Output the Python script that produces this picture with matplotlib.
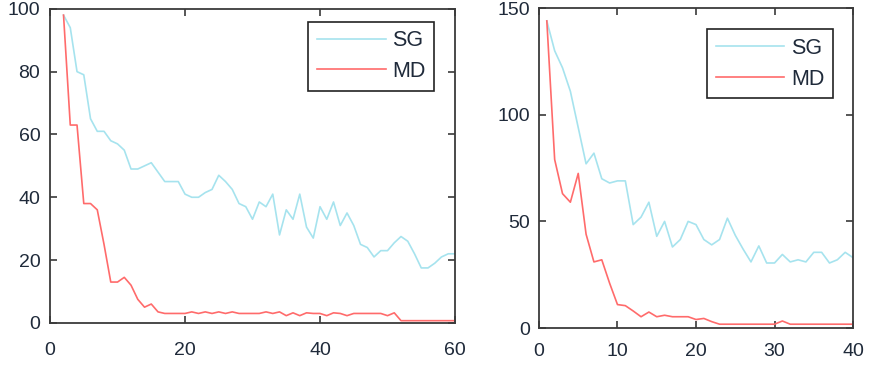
import matplotlib
matplotlib.use("Agg")
import matplotlib.pyplot as plt
import numpy as np

plt.rcParams['font.family'] = ['Liberation Sans', 'DejaVu Sans']

# Left panel data (iterations 2..60)
left_x = list(range(2, 61))
left_sg = [98, 94, 80, 79, 65, 61, 61, 58, 57, 55,
           49, 49, 50, 51, 48, 45, 45, 45, 41, 40,
           40, 41.5, 42.5, 47, 45, 42.5, 38, 37, 33, 38.5,
           37, 41, 28, 36, 33, 41, 30.5, 27, 37, 33,
           38.5, 31, 35, 31, 25, 24, 21, 23, 23, 25.5,
           27.5, 26, 22, 17.5, 17.5, 19, 21, 22, 22]
left_md = [98, 63, 63, 38, 38, 36, 25, 13, 13, 14.5,
           12, 7.5, 5, 6, 3.5, 3, 3, 3, 3, 3.5,
           3, 3.5, 3, 3.5, 3, 3.5, 3, 3, 3, 3,
           3.5, 3, 3.5, 2.3, 3.2, 2.3, 3.2, 3, 3, 2.3,
           3.2, 3, 2.3, 3, 3, 3, 3, 3, 2.3, 3.2,
           0.7, 0.7, 0.7, 0.7, 0.7, 0.7, 0.7, 0.7, 0.7]

# Right panel data (iterations 1..40)
right_x = list(range(1, 41))
right_sg = [144, 130, 122, 111, 94, 77, 82, 70, 68, 69,
            69, 48.5, 52, 59, 43, 50, 38, 41.5, 50, 48.5,
            41.5, 39, 41.5, 51.5, 43.5, 37, 31, 38.5, 30.5, 30.5,
            34.5, 31, 32, 31, 35.5, 35.5, 30.5, 32, 35.5, 33]
right_md = [144, 79, 63, 59, 72.5, 44, 31, 32, 21, 11,
            10.5, 8, 5.3, 7.5, 5.3, 6, 5.3, 5.3, 5.3, 4,
            4.5, 3, 1.8, 1.8, 1.8, 1.8, 1.8, 1.8, 1.8, 1.8,
            3.3, 1.8, 1.8, 1.8, 1.8, 1.8, 1.8, 1.8, 1.8, 1.8]

sg_color = '#a6e3ee'
md_color = '#ff6b6b'

fig = plt.figure(figsize=(8.7, 3.69), dpi=100)
ax1 = fig.add_axes([0.0575, 0.125, 0.4655, 0.851])
ax2 = fig.add_axes([0.6195, 0.111, 0.361, 0.867])

panels = [
    (ax1, left_x, left_sg, left_md, (0, 60), (0, 100),
     [0, 20, 40, 60], [0, 20, 40, 60, 80, 100], (0.948, 0.959), 14, 7),
    (ax2, right_x, right_sg, right_md, (0, 40), (0, 150),
     [0, 10, 20, 30, 40], [0, 50, 100, 150], (0.936, 0.934), 11, 6.5),
]

for ax, x, sg, md, xl, yl, xt, yt, anchor, xpad, ypad in panels:
    ax.plot(x, sg, color=sg_color, lw=1.2, label='SG')
    ax.plot(x, md, color=md_color, lw=1.2, label='MD')
    ax.set_xlim(*xl)
    ax.set_ylim(*yl)
    ax.set_xticks(xt)
    ax.set_yticks(yt)
    ax.tick_params(direction='in', length=5, width=1.2, top=True, right=True,
                   labelsize=14, colors='#3a3a3a', labelcolor='#1f2a3a')
    ax.tick_params(axis='x', pad=xpad)
    ax.tick_params(axis='y', pad=ypad)
    for s in ax.spines.values():
        s.set_color('#3a3a3a')
        s.set_linewidth(1.3)
    leg = ax.legend(loc='upper right', bbox_to_anchor=anchor, fontsize=15.5,
                    fancybox=False, framealpha=1, edgecolor='#222222',
                    handlelength=3.2, borderpad=0.4, labelspacing=0.45,
                    handletextpad=0.3, borderaxespad=0)
    leg.get_frame().set_linewidth(1.2)
    for t in leg.get_texts():
        t.set_color('#1f2a3a')

fig.savefig('out.png', dpi=100)
